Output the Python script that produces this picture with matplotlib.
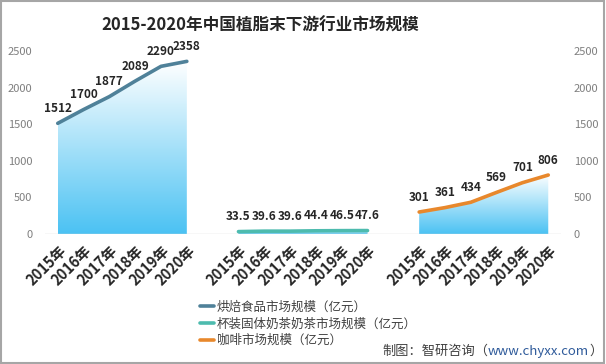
import matplotlib.pyplot as plt
import matplotlib
import numpy as np
from matplotlib.colors import LinearSegmentedColormap

matplotlib.rcParams['font.family'] = ['Noto Sans CJK SC', 'DejaVu Sans']

title = '2015-2020年中国植脂末下游行业市场规模'
years = ['2015年', '2016年', '2017年', '2018年', '2019年', '2020年']
bakery = [1512, 1700, 1877, 2089, 2290, 2358]
milk_tea = [33.5, 39.6, 39.6, 44.4, 46.5, 47.6]
coffee = [301, 361, 434, 569, 701, 806]
bakery_labels = ['1512', '1700', '1877', '2089', '2290', '2358']
milk_tea_labels = ['33.5', '39.6', '39.6', '44.4', '46.5', '47.6']
coffee_labels = ['301', '361', '434', '569', '701', '806']
names = ['烘焙食品市场规模（亿元）', '杯装固体奶茶奶茶市场规模（亿元）', '咖啡市场规模（亿元）']
colors = ['#4F8199', '#4DBBAE', '#E8882C']
yticks = [0, 500, 1000, 1500, 2000, 2500]

series = [bakery, milk_tea, coffee]
series_labels = [bakery_labels, milk_tea_labels, coffee_labels]

fig = plt.figure(figsize=(6.06, 3.64), dpi=100)
ax = fig.add_axes([0.074, 0.357, 0.852, 0.503])

cmap = LinearSegmentedColormap.from_list('g', ['#4BC2F3', '#FFFFFF'])
grad = np.linspace(0, 1, 256).reshape(-1, 1)

handles = []
for i, (vals, labs) in enumerate(zip(series, series_labels)):
    x = np.arange(6) + 7 * i
    poly = ax.fill_between(x, 0, vals, color='none', linewidth=0)
    im = ax.imshow(grad, cmap=cmap, origin='lower', aspect='auto',
                   extent=[x[0], x[-1], 0, max(vals)], zorder=1)
    im.set_clip_path(poly.get_paths()[0], transform=ax.transData)
    h, = ax.plot(x, vals, color=colors[i], linewidth=2.6, zorder=3,
                 solid_capstyle='round')
    handles.append(h)
    for xi, v, s in zip(x, vals, labs):
        ax.annotate(s, (xi, v), xytext=(0, 6), textcoords='offset points',
                    ha='center', va='bottom', fontsize=8.5, fontweight='bold',
                    color='#262626')

ax.set_xlim(-0.5, 19.5)
ax.set_ylim(0, 2500)
ax.axhline(0, color='#D9D9D9', linewidth=1, zorder=2)
for s in ax.spines.values():
    s.set_visible(False)

ax.set_xticks(np.arange(20))
ax.set_xticklabels(years + [''] + years + [''] + years, rotation=45,
                   ha='right', rotation_mode='anchor', fontsize=10.5,
                   fontweight='bold', color='#262626')
ax.tick_params(axis='x', length=0, pad=6)
ax.set_yticks(yticks)
ax.tick_params(axis='y', length=0, pad=9, labelsize=8, labelcolor='#7F7F7F')

ax2 = ax.twinx()
ax2.set_ylim(0, 2500)
ax2.set_yticks(yticks)
ax2.tick_params(axis='y', length=0, pad=9, labelsize=8, labelcolor='#7F7F7F')
for s in ax2.spines.values():
    s.set_visible(False)

fig.text(0.43, 0.93, title, ha='center', va='center', fontsize=12,
         fontweight='bold', color='#262626')

fig.legend(handles, names, loc='upper left', bbox_to_anchor=(0.322, 0.188),
           frameon=False, fontsize=9, handlelength=1.1, handletextpad=0.25,
           labelspacing=0.3, borderaxespad=0, labelcolor='#404040')

# footer: pieces chained right to left so it ends near the right edge
renderer = fig.canvas.get_renderer()
parts = [('制图：智研咨询（', '#404040'),
         ('www.chyxx.com', '#2E5A9A'),
         ('）', '#404040')]
xpos = 0.994
for txt, col in reversed(parts):
    t = fig.text(xpos, 0.035, txt, ha='right', va='center', fontsize=9.5,
                 color=col)
    bb = t.get_window_extent(renderer)
    xpos = fig.transFigure.inverted().transform((bb.x0, bb.y0))[0]

border = plt.Rectangle((0.002, 0.004), 0.995, 0.992, transform=fig.transFigure,
                       fill=False, edgecolor='#A6A6A6', linewidth=1.5)
fig.patches.append(border)

fig.savefig('out.png', dpi=100)
